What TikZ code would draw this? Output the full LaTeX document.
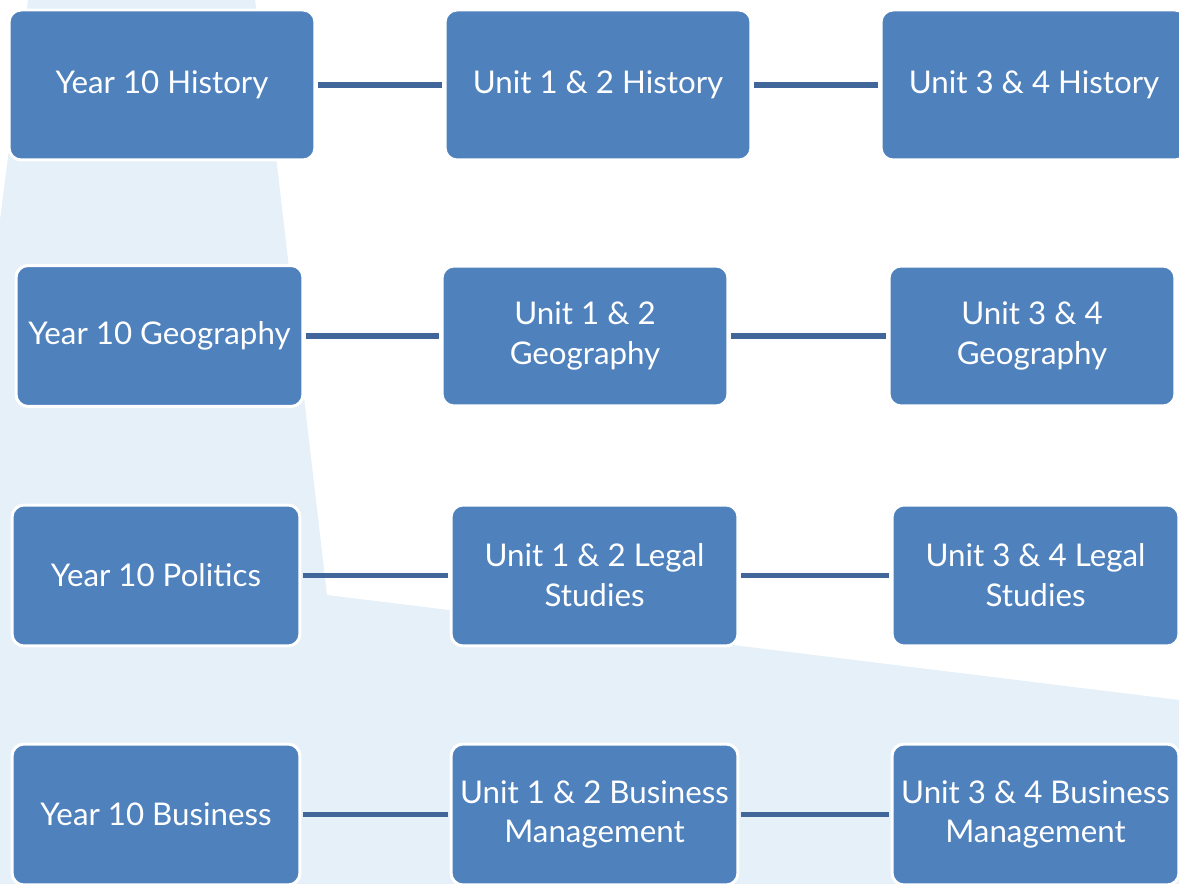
\documentclass[tikz,border=0pt]{standalone}
\usepackage{fontspec}
\setmainfont{Lato}
\definecolor{boxblue}{HTML}{4F81BD}
\definecolor{linkblue}{HTML}{41679A}
\definecolor{paleblue}{HTML}{E5F0F8}
\begin{document}
\begin{tikzpicture}[x=0.02cm, y=-0.02cm,
    every node/.style={rectangle, rounded corners=0.24cm, fill=boxblue, draw=white, line width=1.7pt,
      text=white, align=center, font=\fontsize{17.8}{22.7}\selectfont, inner sep=1pt},
    link/.style={draw=linkblue, line width=0.11cm, shorten <=1pt, shorten >=1pt}]

        \useasboundingbox (0,0) rectangle (1179,884);
        \fill[paleblue] (28,0) -- (255,0) -- (277,165) -- (327,595) -- (1179,700) -- (1179,884) -- (0,884) -- (0,220) -- cycle;

        \node[minimum width=6.12cm, minimum height=3cm] (H1) at (162,85) {Year 10 History};
        \node[minimum width=6.12cm, minimum height=3cm] (H2) at (598,85) {Unit 1 \& 2 History};
        \node[minimum width=6.12cm, minimum height=3cm] (H3) at (1034,85) {Unit 3 \& 4 History};

        \node[minimum width=5.74cm, minimum height=2.82cm] (G1) at (159.5,336) {Year 10 Geography};
        \node[minimum width=5.72cm, minimum height=2.8cm] (G2) at (585,336) {Unit 1 \& 2\\Geography};
        \node[minimum width=5.72cm, minimum height=2.8cm] (G3) at (1032,336) {Unit 3 \& 4\\Geography};

        \node[minimum width=5.76cm, minimum height=2.82cm] (P1) at (156,575.5) {Year 10 Politics};
        \node[minimum width=5.74cm, minimum height=2.82cm] (P2) at (594.5,575.5) {Unit 1 \& 2 Legal\\Studies};
        \node[minimum width=5.74cm, minimum height=2.82cm] (P3) at (1035.5,575.5) {Unit 3 \& 4 Legal\\Studies};

        \node[minimum width=5.76cm, minimum height=2.82cm] (B1) at (156,814.5) {Year 10 Business};
        \node[minimum width=5.74cm, minimum height=2.82cm] (B2) at (594.5,814.5) {Unit 1 \& 2 Business\\Management};
        \node[minimum width=5.74cm, minimum height=2.82cm] (B3) at (1035.5,814.5) {Unit 3 \& 4 Business\\Management};

        \draw[link] (H1) to (H2);
        \draw[link] (H2) to (H3);
        \draw[link] (G1) to (G2);
        \draw[link] (G2) to (G3);
        \draw[link] (P1) to (P2);
        \draw[link] (P2) to (P3);
        \draw[link] (B1) to (B2);
        \draw[link] (B2) to (B3);

\end{tikzpicture}
\end{document}
